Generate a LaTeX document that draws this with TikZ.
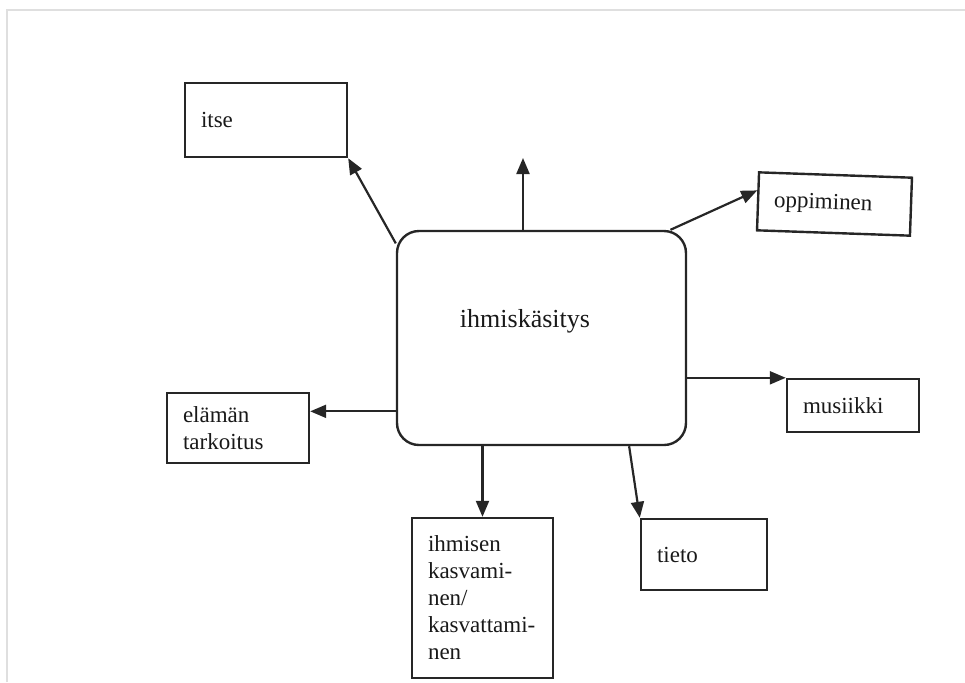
\documentclass[tikz,border=0pt]{standalone}
\usepackage{fontspec}
\setmainfont{Liberation Serif}
\usetikzlibrary{arrows.meta}

\tikzset{
  laatikko/.style={draw=black!85, line width=1.2pt, rectangle, inner ysep=0pt,
    inner xsep=8pt, align=left, text=black!90,
    font=\fontsize{11.5}{13.5}\selectfont},
  keskus/.style={draw=black!85, line width=1.2pt, rectangle, rounded corners=11pt,
    minimum width=144.5pt, minimum height=107pt, inner sep=0pt},
  nuoli/.style={draw=black!85, line width=1.1pt,
    -{Triangle[length=8pt,width=6.5pt]}}
}

\begin{document}
\begin{tikzpicture} [x=0.5pt, y=-0.5pt]

		\useasboundingbox (0,0) rectangle (965,682);

		\draw [gray!25, line width=1pt] (7,682) |- (965,10);

		\node[keskus] (ihmiskasitys) at (541.5,338) {};

		\node[text=black!90, font=\fontsize{13}{15}\selectfont] (otsikko) at (525,321)%
		{ihmiskäsitys};

		\node[laatikko, text width=65pt, minimum height=37pt] (itse) at (266,120)%
		{itse};

		\node[laatikko, text width=60.5pt, minimum height=29pt, rotate=-2] (oppiminen) at (834.5,204)%
		{oppiminen};

		\node[laatikko, text width=50pt, minimum height=26.5pt] (musiikki) at (853,405.5)%
		{musiikki};

		\node[laatikko, text width=55pt, minimum height=35pt] (elama) at (238,428)%
		{elämän\\ tarkoitus};

		\node[laatikko, text width=54.5pt, minimum height=80pt] (ihmisen) at (482.5,598)%
		{ihmisen\\ kasvami-\\ nen/\\ kasvattami-\\ nen};

		\node[laatikko, text width=47pt, minimum height=35.5pt] (tieto) at (704,554.5)%
		{tieto};

		\coordinate (ylos) at (523,158);

		\draw [nuoli] (ihmiskasitys.147.9) -- (itse.south east);
		\draw [nuoli] (ihmiskasitys.north -| ylos) -- (ylos);
		\draw [nuoli] (ihmiskasitys.40.5) -- (oppiminen.172);
		\draw [nuoli] (musiikki.north west -| ihmiskasitys.east) -- (musiikki.north west);
		\draw [nuoli] (ihmiskasitys.west |- elama.13) -- (elama.13);
		\draw [nuoli] (ihmiskasitys.south -| ihmisen.north) -- (ihmisen.north);
		\draw [nuoli] (ihmiskasitys.-51.4) -- (tieto.north west);
	\end{tikzpicture}
\end{document}
